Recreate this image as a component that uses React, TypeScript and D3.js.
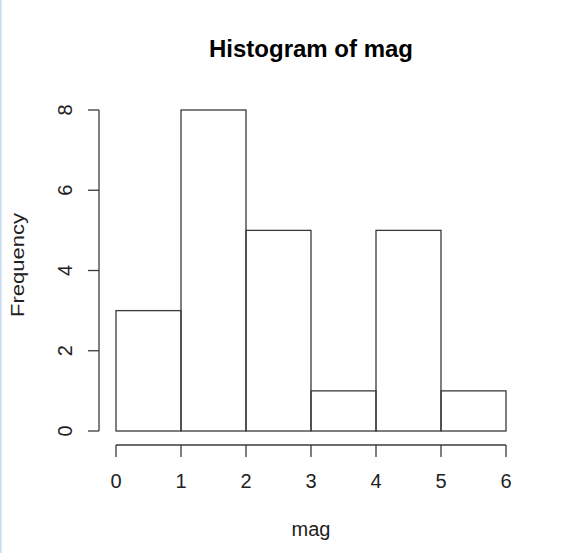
import React from "react";
import * as d3 from "d3";

const breaks = [0, 1, 2, 3, 4, 5, 6];
const counts = [3, 8, 5, 1, 5, 1];
const xTicks = [0, 1, 2, 3, 4, 5, 6];
const yTicks = [0, 2, 4, 6, 8];
const title = "Histogram of mag";
const xLabel = "mag";
const yLabel = "Frequency";

export default function App() {
  const W = 570;
  const H = 553;
  const x = d3.scaleLinear().domain([0, 6]).range([116, 506]);
  const y = d3.scaleLinear().domain([0, 8]).range([431, 110]);
  const font = "Liberation Sans, Arial, sans-serif";
  const stroke = "#3a3a3a";
  const bins = counts.map((c, i) => ({ x0: breaks[i], x1: breaks[i + 1], c }));
  const axisY = 445;
  const axisX = 99;
  return (
    <svg
      width={W}
      height={H}
      style={{ position: "absolute", left: 0, top: 0, background: "#fff" }}
      fontFamily={font}
    >
      <rect x={0} y={0} width={W} height={H} fill="#fff" />
      <rect x={0} y={0} width={1.6} height={H} fill="#c6dcf4" />
      <text x={311} y={57} textAnchor="middle" fontSize={24} fontWeight="bold" fill="#000">
        {title}
      </text>
      {bins.map((b, i) => (
        <rect
          key={i}
          x={x(b.x0)}
          y={y(b.c)}
          width={x(b.x1) - x(b.x0)}
          height={y(0) - y(b.c)}
          fill="none"
          stroke={stroke}
          strokeWidth={1.3}
        />
      ))}
      <g>
        <line x1={x(xTicks[0])} x2={x(xTicks[xTicks.length - 1])} y1={axisY} y2={axisY} stroke={stroke} strokeWidth={1.3} />
        {xTicks.map((t) => (
          <g key={t}>
            <line x1={x(t)} x2={x(t)} y1={axisY} y2={axisY + 12} stroke={stroke} strokeWidth={1.3} />
            <text x={x(t)} y={488} textAnchor="middle" fontSize={20} fill="#222">
              {t}
            </text>
          </g>
        ))}
      </g>
      <g>
        <line x1={axisX} x2={axisX} y1={y(yTicks[0])} y2={y(yTicks[yTicks.length - 1])} stroke={stroke} strokeWidth={1.3} />
        {yTicks.map((t) => (
          <g key={t}>
            <line x1={axisX - 11} x2={axisX} y1={y(t)} y2={y(t)} stroke={stroke} strokeWidth={1.3} />
            <text
              transform={`translate(72,${y(t)}) rotate(-90)`}
              textAnchor="middle"
              fontSize={20}
              fill="#222"
            >
              {t}
            </text>
          </g>
        ))}
      </g>
      <text x={311} y={536} textAnchor="middle" fontSize={20} fill="#222">
        {xLabel}
      </text>
      <text
        transform={`translate(24,265) rotate(-90)`}
        textAnchor="middle"
        fontSize={18}
        fill="#222"
        textLength={104}
        lengthAdjust="spacingAndGlyphs"
      >
        {yLabel}
      </text>
    </svg>
  );
}
